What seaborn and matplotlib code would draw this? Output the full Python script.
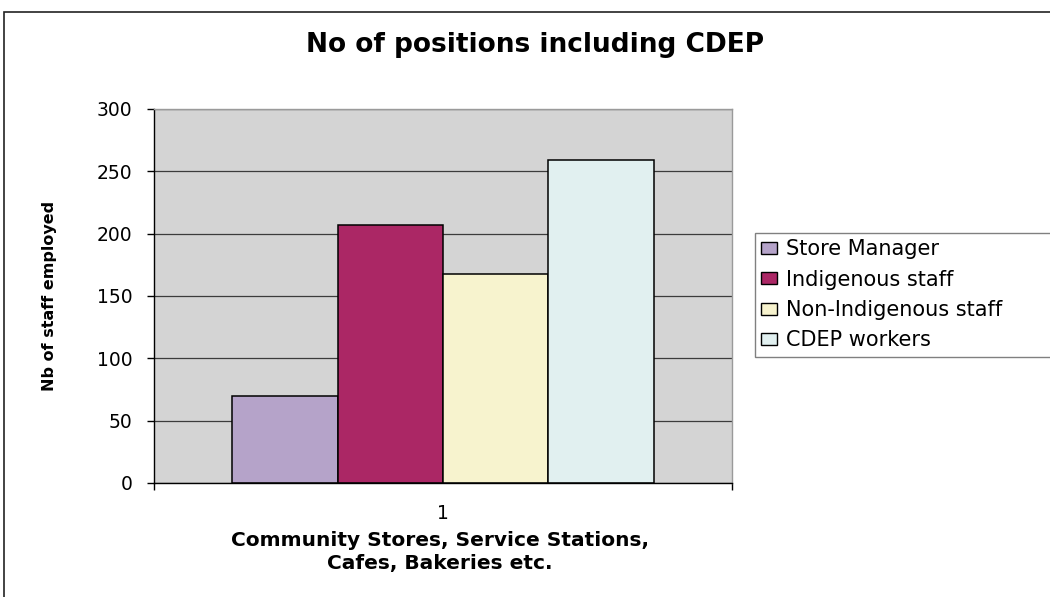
import matplotlib
matplotlib.use("Agg")
import matplotlib.pyplot as plt
from matplotlib.patches import Patch, Rectangle
import pandas as pd
import seaborn as sns

# Data
categories = ["1"]
series = ["Store Manager", "Indigenous staff", "Non-Indigenous staff", "CDEP workers"]
staff = [70, 207, 168, 259]
colors = ["#B5A3C9", "#AB2765", "#F7F3CE", "#E1F0F0"]
yticks = [0, 50, 100, 150, 200, 250, 300]

title = "No of positions including CDEP"
ylabel = "Nb of staff employed"
xlabel = "Community Stores, Service Stations,\nCafes, Bakeries etc."

df = pd.DataFrame({
    "group": categories * len(series),
    "series": series,
    "staff": staff,
})

sns.set_theme(style="white")
plt.rcParams["font.family"] = ["DejaVu Sans"]

W, H = 1050, 597
fig = plt.figure(figsize=(W / 100, H / 100), dpi=100)
fig.patch.set_facecolor("white")

# plot area in pixel bounds
left, right, top, bottom = 154, 732, 109, 483
ax = fig.add_axes([left / W, 1 - bottom / H, (right - left) / W, (bottom - top) / H])

sns.barplot(
    data=df, x="group", y="staff", hue="series", hue_order=series,
    palette=colors, saturation=1, width=0.73,
    edgecolor="black", linewidth=1.1, ax=ax, legend=False,
)

ax.set_facecolor("#D4D4D4")
ax.set_axisbelow(True)
ax.set_ylim(0, 300)
ax.set_xlim(-0.5, 0.5)
ax.set_yticks(yticks)
ax.yaxis.grid(True, color="#3c3c3c", linewidth=0.9)
ax.xaxis.grid(False)

ax.tick_params(axis="y", left=True, direction="out", length=5, width=1,
               color="black", pad=10.5, labelsize=13.5, labelcolor="black")
ax.set_xticks([0])
ax.set_xticklabels(categories)
ax.tick_params(axis="x", which="major", length=0, pad=15, labelsize=13.5,
               labelcolor="black")
ax.set_xticks([-0.5, 0.5], minor=True)
ax.tick_params(axis="x", which="minor", bottom=True, direction="out",
               length=5, width=1, color="black")

for side in ("left", "bottom"):
    ax.spines[side].set_color("black")
    ax.spines[side].set_linewidth(1)
for side in ("top", "right"):
    ax.spines[side].set_color("#9a9a9a")
    ax.spines[side].set_linewidth(1)

ax.set_ylabel(ylabel, fontsize=11.5, fontweight="bold", color="black")
ax.yaxis.set_label_coords((57 - left) / (right - left), 0.5)
ax.set_xlabel(xlabel, fontsize=14.5, fontweight="bold", color="black",
              linespacing=1.25)
ax.xaxis.set_label_coords((440 - left) / (right - left),
                          (bottom - 531) / (bottom - top))

fig.text(535 / W, 1 - 45 / H, title, ha="center", va="center",
         fontsize=19, fontweight="bold", color="black")

handles = [Patch(facecolor=c, edgecolor="black", linewidth=1) for c in colors]
leg = fig.legend(
    handles, series, loc="upper left",
    bbox_to_anchor=(755 / W, 1 - 233 / H, 0.35, 0), mode="expand",
    fontsize=15, frameon=True, fancybox=False, framealpha=1,
    edgecolor="#808080", handlelength=0.75, handleheight=0.5,
    handletextpad=0.45, borderpad=0.3, labelspacing=0.5, borderaxespad=0,
    labelcolor="black",
)
leg.get_frame().set_linewidth(1)

# outer chart border
fig.add_artist(Rectangle((4 / W, -0.2), 1.5, 1 - 12 / H + 0.2,
                         transform=fig.transFigure, fill=False,
                         edgecolor="#222222", linewidth=1.2))

fig.savefig("out.png", dpi=100)
